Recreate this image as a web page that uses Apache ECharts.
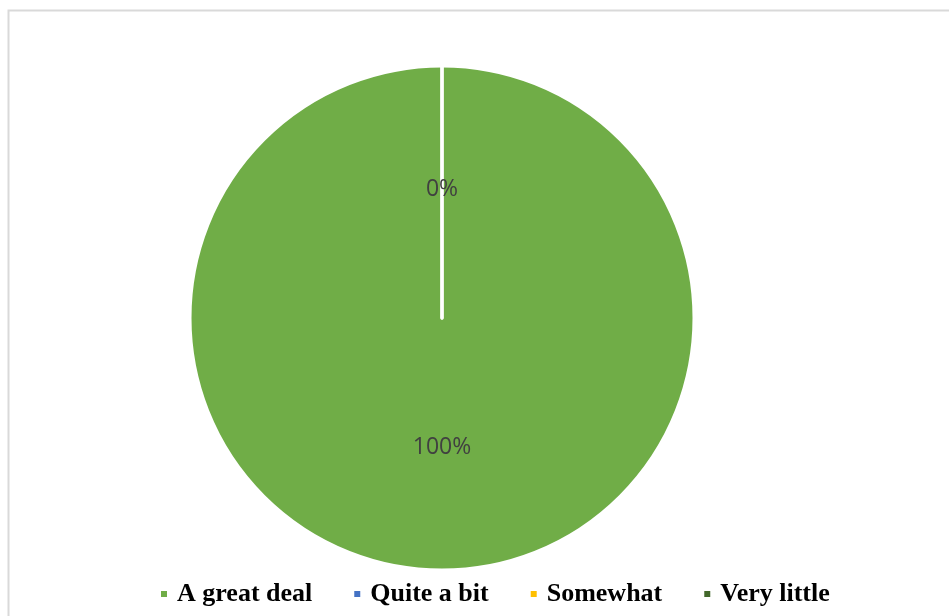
<!DOCTYPE html>
<html>
<head>
<meta charset="utf-8">
<script src="https://cdn.jsdelivr.net/npm/echarts@6/dist/echarts.min.js"></script>
<style>
  html, body { margin: 0; padding: 0; background: #fff; }
  #chart { width: 949px; height: 616px; }
</style>
</head>
<body>
<div id="chart"></div>
<script>
// Responses to the question, as shares of all answers
const categories = ['A great deal', 'Quite a bit', 'Somewhat', 'Very little'];
const shares = [100, 0, 0, 0];
const sliceColors = ['#70AD47', '#4472C4', '#FFC000', '#43682B'];

const chart = echarts.init(document.getElementById('chart'));

chart.setOption({
  animation: false,
  graphic: [{
    type: 'rect',
    shape: { x: 8.5, y: 10.5, width: 1200, height: 1200 },
    style: { fill: 'none', stroke: '#d9d9d9', lineWidth: 2 },
    silent: true
  }],
  legend: {
    data: categories,
    bottom: 4,
    left: 154,
    icon: 'rect',
    itemWidth: 8,
    itemHeight: 8,
    itemGap: 40,
    textStyle: {
      fontFamily: '"Liberation Serif", "Times New Roman", serif',
      fontWeight: 'bold',
      fontSize: 26,
      color: '#000',
      padding: [0, 0, 0, 4]
    }
  },
  series: [{
    type: 'pie',
    center: [442, 318],
    radius: [0, 252],
    startAngle: 90,
    clockwise: true,
    avoidLabelOverlap: false,
    itemStyle: { borderColor: '#fff', borderWidth: 3 },
    label: {
      show: true,
      position: 'inside',
      formatter: '{d}%',
      fontFamily: '"Open Sans", sans-serif',
      fontSize: 23,
      color: '#404040'
    },
    labelLine: { show: false },
    emphasis: { disabled: true },
    data: categories.map((name, i) => ({
      name: name,
      value: shares[i],
      itemStyle: { color: sliceColors[i] }
    }))
  }]
});
</script>
</body>
</html>
